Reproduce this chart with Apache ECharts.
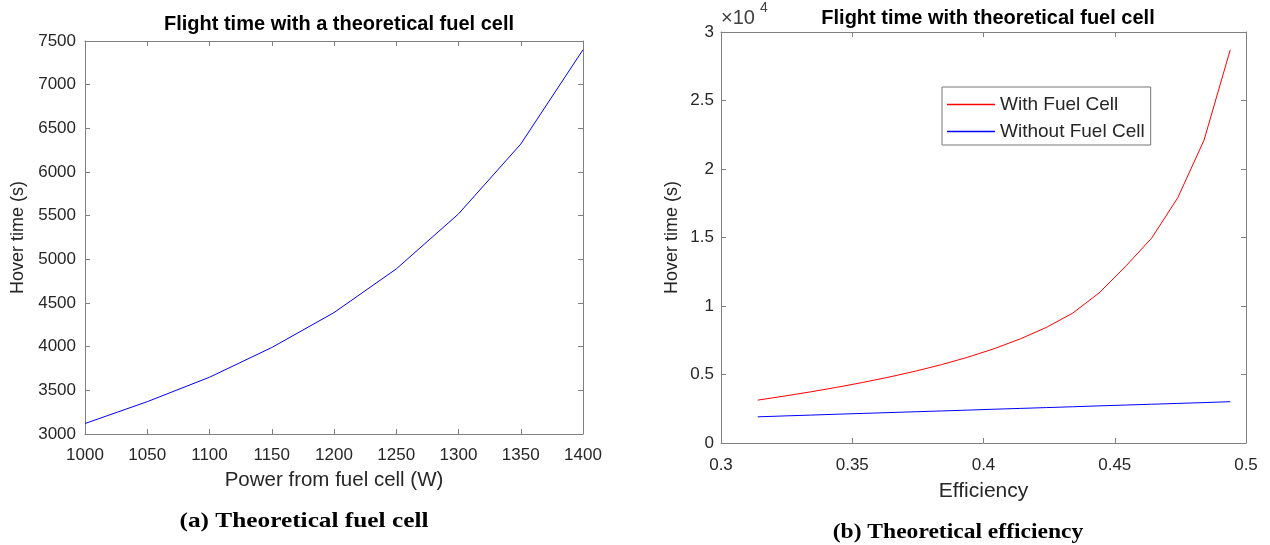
<!DOCTYPE html>
<html><head><meta charset="utf-8">
<script src="https://cdn.jsdelivr.net/npm/echarts@6/dist/echarts.min.js"></script>
<style>html,body{margin:0;padding:0;background:#fff}#c{width:1270px;height:545px}</style>
</head><body><div id="c"></div>
<script>
// ---- data ----
const powerW = [1000, 1050, 1100, 1150, 1200, 1250, 1300, 1350, 1400];
const hoverTimeA = [3120, 3370, 3650, 3990, 4390, 4890, 5520, 6320, 7400];

const efficiency = [0.314, 0.324, 0.334, 0.344, 0.354, 0.364, 0.374, 0.384, 0.394, 0.404,
                    0.414, 0.424, 0.434, 0.444, 0.454, 0.464, 0.474, 0.484, 0.494];
const hoverWithFC = [3130, 3420, 3730, 4060, 4420, 4810, 5240, 5720, 6260, 6880,
                     7600, 8440, 9480, 10950, 12870, 14940, 17900, 22100, 28700];
const hoverWithoutFC = [1910, 1975, 2035, 2100, 2160, 2220, 2280, 2340, 2400, 2465,
                        2525, 2585, 2645, 2710, 2770, 2830, 2890, 2950, 3015];

const seriesNames = ['With Fuel Cell', 'Without Fuel Cell'];
const yTickLabelsB = ['0', '0.5', '1', '1.5', '2', '2.5', '3'];

// ---- chart ----
const F = '"Liberation Sans", Arial, Helvetica, sans-serif';
const SERIF = '"Liberation Serif", "Times New Roman", serif';
const axisGray = '#808080';
const txt = '#262626';

function mkAxis(grid, min, max, interval, pos, label, name, nameGap, nameSize, fmt) {
  const a = {
    gridIndex: grid, type: 'value', min: min, max: max, interval: interval, position: pos,
    axisLine: { show: true, onZero: false, lineStyle: { color: axisGray, width: 1 } },
    axisTick: { show: true, inside: true, length: 5, lineStyle: { color: axisGray } },
    axisLabel: label ? { show: true, color: txt, fontSize: 17, fontFamily: F, margin: label.margin,
                         showMinLabel: true, showMaxLabel: true, formatter: fmt || (v => String(v)) } : { show: false },
    splitLine: { show: false }
  };
  if (name) {
    a.name = name; a.nameLocation = 'middle'; a.nameGap = nameGap;
    a.nameTextStyle = { color: txt, fontSize: nameSize, fontFamily: F };
  }
  return a;
}

const option = {
  backgroundColor: '#fff',
  animation: false,
  title: [
    { text: 'Flight time with a theoretical fuel cell', left: 334, top: 9, textAlign: 'center',
      textStyle: { color: '#000', fontSize: 20, fontWeight: 'bold', fontFamily: F } },
    { text: 'Flight time with theoretical fuel cell', left: 983, top: 3, textAlign: 'center',
      textStyle: { color: '#000', fontSize: 20, fontWeight: 'bold', fontFamily: F } }
  ],
  grid: [
    { left: 85, top: 41, width: 498, height: 393 },
    { left: 721, top: 32, width: 525, height: 411 }
  ],
  xAxis: [
    mkAxis(0, 1000, 1400, 50, 'bottom', { margin: 13 }, 'Power from fuel cell (W)', 36, 20.5),
    mkAxis(0, 1000, 1400, 50, 'top', null),
    mkAxis(1, 0.3, 0.5, 0.05, 'bottom', { margin: 14 }, 'Efficiency', 38, 21, v => String(+v.toFixed(2))),
    mkAxis(1, 0.3, 0.5, 0.05, 'top', null)
  ],
  yAxis: [
    mkAxis(0, 3000, 7500, 500, 'left', { margin: 9 }, 'Hover time (s)', 58, 18),
    mkAxis(0, 3000, 7500, 500, 'right', null),
    mkAxis(1, 0, 30000, 5000, 'left', { margin: 7 }, 'Hover time (s)', 40, 18, v => yTickLabelsB[Math.round(v / 5000)]),
    mkAxis(1, 0, 30000, 5000, 'right', null)
  ],
  legend: {
    data: seriesNames, orient: 'vertical', left: 942, top: 87, icon: 'rect',
    padding: [8, 6, 4, 5], itemGap: 8, itemWidth: 48, itemHeight: 1.5, itemTextGap: 5,
    borderColor: '#777', borderWidth: 1, backgroundColor: '#fff',
    textStyle: { color: txt, fontSize: 19, fontFamily: F }
  },
  graphic: [
    { type: 'text', left: 721, top: 8, style: { text: '×10', fill: '#404040', fontSize: 20, fontFamily: F } },
    { type: 'text', left: 760, top: 1, style: { text: '4', fill: '#404040', fontSize: 14, fontFamily: F } },
    { type: 'text', x: 304, y: 521, scaleX: 1.15,
      style: { text: '(a) Theoretical fuel cell', fill: '#000', fontSize: 22, fontWeight: 'bold', fontFamily: SERIF,
               align: 'center', verticalAlign: 'middle' } },
    { type: 'text', x: 958, y: 532, scaleX: 1.07,
      style: { text: '(b) Theoretical efficiency', fill: '#000', fontSize: 22, fontWeight: 'bold', fontFamily: SERIF,
               align: 'center', verticalAlign: 'middle' } }
  ],
  series: [
    { type: 'line', name: 'A', xAxisIndex: 0, yAxisIndex: 0, symbol: 'none',
      lineStyle: { color: '#0000ff', width: 1 }, itemStyle: { color: '#0000ff' },
      data: powerW.map((p, i) => [p, hoverTimeA[i]]) },
    { type: 'line', name: seriesNames[0], xAxisIndex: 2, yAxisIndex: 2, symbol: 'none',
      lineStyle: { color: '#ff0000', width: 1 }, itemStyle: { color: '#ff0000' },
      data: efficiency.map((e, i) => [e, hoverWithFC[i]]) },
    { type: 'line', name: seriesNames[1], xAxisIndex: 2, yAxisIndex: 2, symbol: 'none',
      lineStyle: { color: '#0000ff', width: 1 }, itemStyle: { color: '#0000ff' },
      data: efficiency.map((e, i) => [e, hoverWithoutFC[i]]) }
  ]
};
echarts.init(document.getElementById('c')).setOption(option);
</script></body></html>
